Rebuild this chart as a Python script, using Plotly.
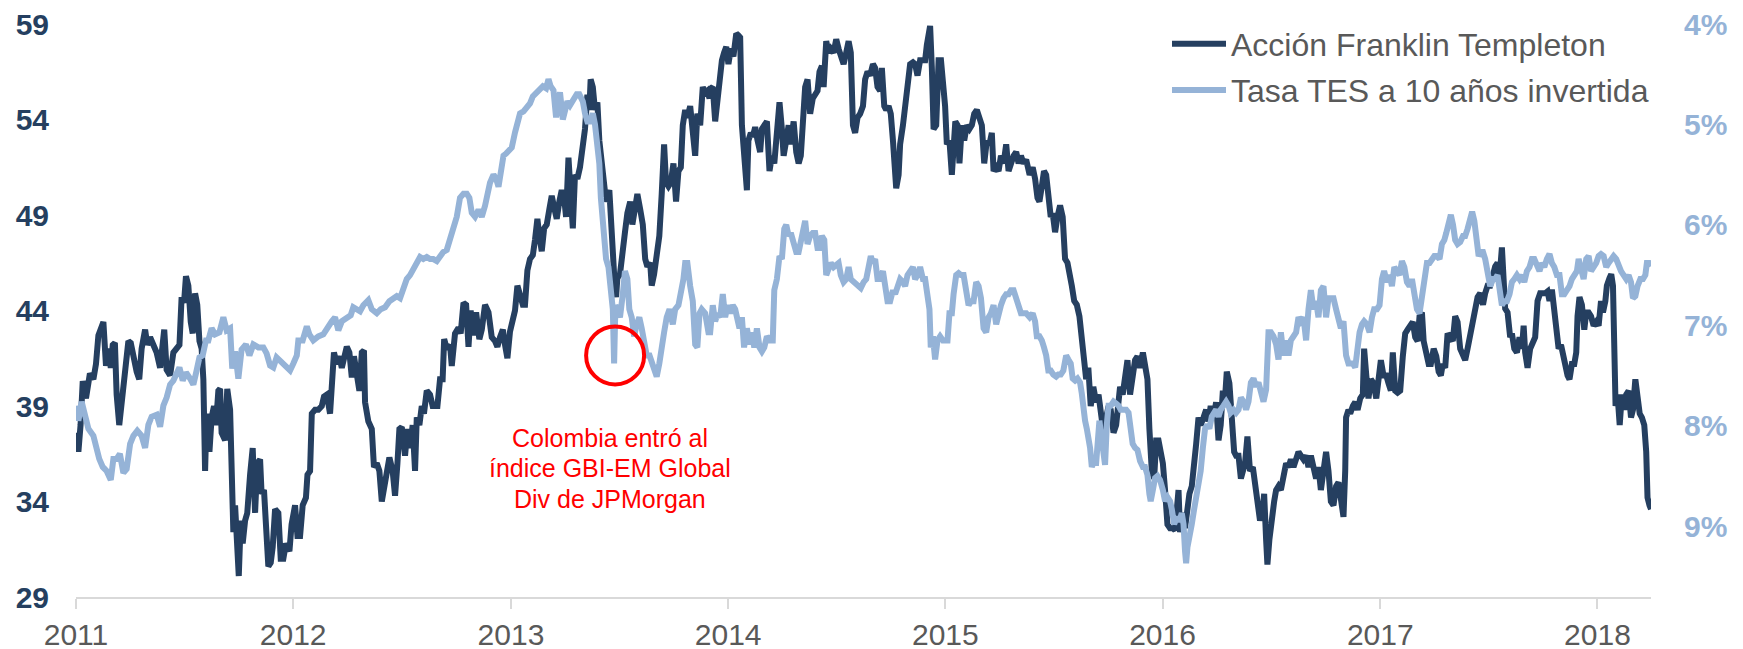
import numpy as np
import pandas as pd
import plotly.graph_objects as go

# (years since 2011-01-01, price)
franklin = [
    (0.003, 37.6), (0.011, 36.6), (0.021, 38.0), (0.031, 40.3), (0.046, 39.4), (0.064, 40.7), (0.080, 40.4),
    (0.092, 41.2), (0.103, 42.7), (0.118, 43.3), (0.126, 43.4), (0.138, 41.1), (0.149, 42.0), (0.160, 41.0),
    (0.169, 42.2), (0.179, 42.3), (0.187, 39.6), (0.199, 38.0), (0.210, 39.2), (0.225, 40.4), (0.241, 42.4),
    (0.252, 42.3), (0.267, 41.4), (0.279, 40.8), (0.291, 40.4), (0.302, 42.0), (0.318, 43.0), (0.328, 42.2),
    (0.341, 42.6), (0.356, 42.2), (0.371, 41.8), (0.387, 41.0), (0.394, 42.0), (0.406, 43.0), (0.417, 40.9),
    (0.433, 40.6), (0.448, 41.8), (0.460, 42.0), (0.476, 42.2), (0.486, 44.7), (0.497, 44.4), (0.506, 45.8),
    (0.517, 45.3), (0.528, 43.4), (0.537, 42.8), (0.548, 44.9), (0.558, 44.3), (0.568, 42.4), (0.578, 42.0),
    (0.586, 40.4), (0.594, 35.6), (0.601, 38.6), (0.614, 36.6), (0.624, 38.4), (0.635, 39.0), (0.644, 38.0),
    (0.655, 39.8), (0.663, 39.9), (0.670, 37.6), (0.686, 37.2), (0.696, 39.9), (0.709, 38.8), (0.716, 34.0),
    (0.724, 32.4), (0.732, 33.8), (0.739, 32.0), (0.749, 30.1), (0.758, 33.0), (0.767, 31.8), (0.778, 33.0),
    (0.788, 33.4), (0.801, 35.4), (0.813, 36.8), (0.824, 33.4), (0.834, 36.0), (0.847, 36.2), (0.854, 34.4),
    (0.865, 34.6), (0.874, 32.6), (0.885, 30.6), (0.896, 30.8), (0.905, 31.6), (0.916, 33.6), (0.931, 33.4),
    (0.942, 31.0), (0.954, 31.0), (0.966, 31.8), (0.982, 31.4), (0.992, 32.8), (1.008, 33.8), (1.019, 32.2),
    (1.031, 32.2), (1.043, 33.8), (1.058, 34.2), (1.065, 35.4), (1.077, 35.6), (1.085, 38.6), (1.100, 38.8),
    (1.115, 38.8), (1.131, 39.0), (1.141, 39.5), (1.154, 39.6), (1.169, 38.6), (1.177, 40.0), (1.187, 41.8),
    (1.200, 41.2), (1.212, 41.6), (1.223, 41.0), (1.233, 41.6), (1.246, 42.1), (1.258, 41.8), (1.269, 40.5),
    (1.279, 41.6), (1.292, 40.4), (1.304, 39.8), (1.315, 41.8), (1.325, 41.9), (1.330, 39.2), (1.345, 38.2),
    (1.361, 37.8), (1.371, 35.8), (1.384, 36.0), (1.396, 35.6), (1.407, 34.0), (1.417, 34.8), (1.430, 35.6),
    (1.442, 36.3), (1.457, 35.6), (1.468, 34.3), (1.479, 36.0), (1.488, 37.8), (1.499, 37.9), (1.514, 36.4),
    (1.525, 37.8), (1.537, 36.8), (1.549, 38.0), (1.560, 35.6), (1.568, 38.4), (1.580, 38.0), (1.591, 39.0),
    (1.601, 38.6), (1.614, 39.8), (1.629, 39.6), (1.641, 39.0), (1.652, 39.0), (1.663, 39.0), (1.675, 40.4),
    (1.687, 40.4), (1.694, 42.5), (1.706, 42.0), (1.721, 42.2), (1.729, 41.1), (1.744, 42.8), (1.760, 43.1),
    (1.770, 42.8), (1.783, 44.4), (1.795, 44.3), (1.806, 42.1), (1.816, 44.0), (1.829, 42.7), (1.841, 43.9),
    (1.856, 42.5), (1.867, 43.0), (1.882, 44.3), (1.898, 43.9), (1.913, 42.6), (1.928, 42.4), (1.939, 42.1),
    (1.951, 42.6), (1.964, 43.0), (1.974, 42.2), (1.985, 41.5), (1.997, 42.9), (2.010, 43.4), (2.020, 44.0),
    (2.031, 45.3), (2.043, 44.9), (2.056, 44.3), (2.066, 44.3), (2.077, 46.1), (2.089, 46.7), (2.102, 46.9),
    (2.112, 47.7), (2.123, 48.8), (2.132, 47.9), (2.143, 47.1), (2.154, 48.3), (2.166, 48.5), (2.178, 49.3),
    (2.189, 50.0), (2.200, 49.4), (2.212, 48.8), (2.224, 49.7), (2.235, 50.3), (2.246, 49.9), (2.255, 48.9),
    (2.266, 52.0), (2.276, 50.1), (2.286, 48.3), (2.296, 51.1), (2.307, 50.9), (2.319, 51.5), (2.332, 52.7),
    (2.342, 53.5), (2.353, 55.3), (2.362, 54.5), (2.368, 56.1), (2.378, 55.7), (2.388, 54.5), (2.399, 54.9),
    (2.408, 52.9), (2.419, 51.7), (2.430, 50.3), (2.439, 49.7), (2.454, 50.3), (2.465, 47.7), (2.476, 45.9),
    (2.485, 44.7), (2.491, 45.7), (2.503, 45.9), (2.516, 46.9), (2.526, 48.1), (2.537, 49.1), (2.550, 49.7),
    (2.560, 48.5), (2.573, 49.3), (2.583, 50.1), (2.596, 49.3), (2.608, 48.5), (2.619, 46.7), (2.629, 46.3),
    (2.642, 46.5), (2.649, 45.3), (2.660, 45.9), (2.672, 47.1), (2.684, 47.9), (2.695, 50.1), (2.706, 52.7),
    (2.715, 50.7), (2.726, 50.5), (2.737, 50.7), (2.749, 51.7), (2.761, 49.7), (2.772, 51.3), (2.783, 51.5),
    (2.792, 53.7), (2.803, 54.5), (2.813, 54.1), (2.826, 54.7), (2.838, 53.5), (2.849, 52.1), (2.859, 54.3),
    (2.872, 53.7), (2.884, 55.7), (2.895, 55.4), (2.905, 55.5), (2.915, 55.1), (2.918, 55.6), (2.930, 55.7),
    (2.941, 53.9), (2.952, 55.1), (2.961, 55.7), (2.972, 57.1), (2.982, 57.5), (2.992, 57.8), (3.002, 56.9),
    (3.013, 57.7), (3.025, 57.3), (3.038, 58.5), (3.048, 58.4), (3.056, 58.3), (3.064, 53.7), (3.071, 52.9),
    (3.079, 51.3), (3.087, 50.3), (3.094, 52.9), (3.105, 53.3), (3.114, 53.1), (3.125, 53.6), (3.136, 52.9),
    (3.148, 52.3), (3.156, 53.5), (3.167, 53.7), (3.179, 53.9), (3.191, 51.3), (3.202, 52.1), (3.213, 51.7),
    (3.225, 53.7), (3.237, 54.9), (3.248, 53.5), (3.256, 52.1), (3.268, 52.9), (3.279, 53.7), (3.289, 52.7),
    (3.302, 53.9), (3.314, 52.3), (3.325, 51.7), (3.335, 52.1), (3.344, 54.5), (3.355, 55.7), (3.366, 56.1),
    (3.378, 54.3), (3.390, 55.1), (3.401, 55.3), (3.412, 55.5), (3.421, 56.5), (3.432, 56.8), (3.440, 55.7),
    (3.452, 58.1), (3.463, 57.5), (3.473, 57.7), (3.486, 57.5), (3.498, 58.2), (3.509, 57.7), (3.519, 57.3),
    (3.532, 56.9), (3.544, 57.5), (3.555, 58.1), (3.565, 57.5), (3.575, 53.7), (3.585, 53.3), (3.596, 54.1),
    (3.608, 54.3), (3.621, 54.7), (3.631, 56.1), (3.642, 56.5), (3.654, 56.3), (3.667, 56.9), (3.677, 56.7),
    (3.688, 55.7), (3.700, 55.5), (3.708, 56.7), (3.719, 54.7), (3.728, 54.5), (3.739, 54.7), (3.749, 54.3),
    (3.759, 52.9), (3.765, 51.1), (3.774, 50.4), (3.785, 51.1), (3.792, 52.7), (3.805, 53.7), (3.815, 54.7),
    (3.826, 55.7), (3.838, 56.9), (3.851, 57.0), (3.861, 56.9), (3.872, 56.3), (3.884, 57.1), (3.897, 57.1),
    (3.907, 57.1), (3.915, 57.9), (3.923, 58.5), (3.930, 58.9), (3.938, 56.7), (3.946, 53.5), (3.958, 53.7),
    (3.969, 57.1), (3.980, 57.1), (3.992, 55.7), (3.999, 54.7), (4.007, 52.7), (4.019, 52.9), (4.030, 51.1),
    (4.038, 52.1), (4.046, 53.9), (4.056, 53.7), (4.065, 51.7), (4.076, 53.7), (4.087, 52.9), (4.099, 53.7),
    (4.111, 53.5), (4.122, 53.7), (4.133, 54.3), (4.145, 54.5), (4.157, 54.1), (4.168, 53.7), (4.179, 51.7),
    (4.191, 52.9), (4.203, 52.7), (4.214, 53.3), (4.222, 51.3), (4.234, 51.5), (4.245, 51.3), (4.256, 52.1),
    (4.268, 51.7), (4.280, 52.7), (4.291, 51.3), (4.302, 51.7), (4.314, 52.1), (4.326, 52.3), (4.337, 51.7),
    (4.348, 52.1), (4.360, 51.7), (4.372, 51.9), (4.388, 51.1), (4.402, 51.5), (4.413, 50.9), (4.424, 49.9),
    (4.433, 49.7), (4.444, 50.5), (4.454, 51.3), (4.464, 51.1), (4.474, 49.7), (4.485, 48.9), (4.494, 49.1),
    (4.505, 48.1), (4.516, 48.9), (4.528, 49.5), (4.540, 48.9), (4.551, 46.7), (4.562, 46.5), (4.571, 45.7),
    (4.582, 45.3), (4.593, 44.5), (4.605, 44.3), (4.617, 43.7), (4.628, 42.6), (4.639, 41.2), (4.648, 40.4),
    (4.658, 41.0), (4.669, 39.0), (4.681, 40.0), (4.694, 39.2), (4.705, 39.6), (4.715, 38.4), (4.728, 37.6),
    (4.740, 38.4), (4.751, 39.0), (4.761, 38.8), (4.774, 37.6), (4.786, 38.0), (4.797, 39.2), (4.804, 40.0),
    (4.816, 39.6), (4.827, 40.6), (4.838, 41.4), (4.850, 39.6), (4.862, 40.8), (4.873, 41.4), (4.884, 41.6),
    (4.896, 41.0), (4.909, 41.8), (4.919, 41.2), (4.930, 40.4), (4.939, 37.8), (4.950, 35.6), (4.961, 35.2),
    (4.970, 37.2), (4.981, 37.2), (4.991, 36.6), (5.001, 36.0), (5.011, 34.6), (5.022, 32.8), (5.034, 32.6),
    (5.047, 32.6), (5.057, 32.5), (5.065, 33.8), (5.073, 34.6), (5.080, 32.4), (5.093, 33.4), (5.103, 32.6),
    (5.111, 33.6), (5.123, 34.4), (5.134, 34.8), (5.145, 35.8), (5.154, 37.0), (5.165, 38.4), (5.175, 38.0),
    (5.188, 38.4), (5.200, 38.8), (5.211, 38.2), (5.221, 39.0), (5.234, 38.4), (5.246, 39.2), (5.257, 37.2),
    (5.267, 38.0), (5.277, 39.8), (5.287, 39.4), (5.295, 40.8), (5.307, 40.2), (5.318, 38.4), (5.329, 36.6),
    (5.338, 36.4), (5.349, 36.4), (5.360, 35.2), (5.369, 35.6), (5.379, 36.0), (5.390, 37.4), (5.402, 35.6),
    (5.415, 35.8), (5.425, 34.8), (5.436, 33.6), (5.448, 33.0), (5.461, 33.6), (5.467, 34.4), (5.476, 32.0),
    (5.482, 30.7), (5.491, 32.0), (5.502, 33.2), (5.513, 34.0), (5.522, 34.6), (5.533, 34.8), (5.544, 34.6),
    (5.556, 35.2), (5.568, 36.0), (5.579, 35.8), (5.590, 36.2), (5.602, 35.8), (5.614, 36.2), (5.625, 36.6),
    (5.636, 36.4), (5.648, 36.2), (5.660, 36.4), (5.671, 35.8), (5.682, 36.4), (5.694, 35.6), (5.706, 35.2),
    (5.717, 35.8), (5.728, 34.6), (5.740, 35.6), (5.752, 36.6), (5.763, 35.6), (5.774, 34.0), (5.786, 33.8),
    (5.798, 34.8), (5.809, 35.0), (5.820, 34.0), (5.832, 33.2), (5.840, 35.6), (5.844, 38.4), (5.855, 38.8),
    (5.863, 38.6), (5.875, 39.0), (5.886, 39.2), (5.897, 38.8), (5.909, 39.4), (5.921, 39.6), (5.927, 42.0),
    (5.937, 40.6), (5.947, 39.4), (5.958, 40.4), (5.970, 40.2), (5.983, 39.4), (5.993, 40.4), (6.004, 41.4),
    (6.016, 40.6), (6.029, 40.6), (6.039, 40.2), (6.050, 39.8), (6.059, 41.8), (6.070, 39.8), (6.081, 39.7),
    (6.093, 39.8), (6.105, 41.6), (6.116, 42.8), (6.127, 43.0), (6.139, 43.2), (6.151, 43.4), (6.162, 42.6),
    (6.173, 42.4), (6.182, 43.7), (6.193, 43.9), (6.201, 42.4), (6.213, 41.6), (6.224, 41.2), (6.234, 41.2),
    (6.247, 42.0), (6.259, 41.6), (6.270, 40.8), (6.280, 40.6), (6.289, 41.2), (6.300, 41.0), (6.311, 42.8),
    (6.323, 42.6), (6.335, 42.4), (6.346, 43.7), (6.357, 43.4), (6.369, 42.0), (6.382, 41.6), (6.392, 41.4),
    (6.403, 42.0), (6.415, 42.8), (6.428, 43.7), (6.438, 44.0), (6.449, 44.7), (6.461, 44.9), (6.474, 44.3),
    (6.484, 44.9), (6.495, 45.3), (6.507, 45.3), (6.520, 45.9), (6.530, 46.3), (6.541, 46.5), (6.550, 45.7),
    (6.561, 47.3), (6.569, 45.3), (6.576, 44.1), (6.587, 43.9), (6.599, 42.6), (6.607, 42.8), (6.618, 42.0),
    (6.630, 41.8), (6.642, 42.6), (6.653, 42.0), (6.661, 43.2), (6.668, 41.8), (6.679, 41.0), (6.691, 42.0),
    (6.704, 42.4), (6.714, 42.6), (6.725, 44.5), (6.737, 44.9), (6.750, 44.9), (6.760, 44.9), (6.771, 45.0),
    (6.780, 44.5), (6.791, 45.1), (6.802, 44.1), (6.814, 42.8), (6.822, 42.0), (6.833, 42.2), (6.842, 41.6),
    (6.852, 41.0), (6.863, 40.6), (6.872, 40.4), (6.883, 41.2), (6.894, 41.2), (6.903, 41.8), (6.909, 43.7),
    (6.918, 44.7), (6.929, 44.3), (6.940, 43.0), (6.949, 43.9), (6.960, 43.9), (6.971, 43.7), (6.983, 43.2),
    (6.995, 43.4), (7.006, 43.2), (7.017, 44.5), (7.026, 43.9), (7.037, 44.5), (7.044, 45.3), (7.056, 45.7),
    (7.064, 45.9), (7.072, 45.3), (7.078, 42.4), (7.084, 39.0), (7.093, 39.6), (7.103, 38.0), (7.113, 39.6),
    (7.124, 38.8), (7.133, 39.6), (7.144, 39.8), (7.155, 38.4), (7.164, 38.8), (7.175, 40.4), (7.185, 39.4),
    (7.195, 38.6), (7.205, 38.4), (7.216, 38.0), (7.225, 36.6), (7.231, 34.2), (7.240, 33.8), (7.247, 33.6),
]

# (years since 2011-01-01, 10y TES yield in %)
tes = [
    (0.003, 7.80), (0.011, 7.95), (0.026, 7.76), (0.041, 7.91), (0.057, 8.03), (0.080, 8.10), (0.095, 8.26),
    (0.107, 8.33), (0.123, 8.41), (0.141, 8.45), (0.160, 8.54), (0.172, 8.33), (0.187, 8.33), (0.202, 8.28),
    (0.218, 8.47), (0.233, 8.43), (0.249, 8.18), (0.264, 8.10), (0.282, 8.05), (0.302, 8.10), (0.318, 8.22),
    (0.333, 7.99), (0.348, 7.91), (0.371, 7.89), (0.387, 8.01), (0.402, 7.80), (0.417, 7.72), (0.433, 7.59),
    (0.448, 7.55), (0.463, 7.49), (0.476, 7.42), (0.491, 7.55), (0.506, 7.47), (0.525, 7.53), (0.540, 7.59),
    (0.555, 7.45), (0.568, 7.32), (0.583, 7.30), (0.598, 7.15), (0.609, 7.15), (0.624, 7.03), (0.640, 7.09),
    (0.660, 7.07), (0.678, 6.92), (0.693, 7.05), (0.709, 7.03), (0.719, 7.43), (0.732, 7.26), (0.747, 7.53),
    (0.762, 7.24), (0.782, 7.19), (0.798, 7.30), (0.816, 7.19), (0.839, 7.22), (0.862, 7.22), (0.877, 7.28),
    (0.893, 7.40), (0.908, 7.42), (0.923, 7.32), (0.942, 7.36), (0.962, 7.40), (0.985, 7.45), (1.000, 7.38),
    (1.016, 7.30), (1.023, 7.15), (1.043, 7.15), (1.062, 7.01), (1.074, 7.09), (1.092, 7.15), (1.115, 7.11),
    (1.138, 7.09), (1.154, 7.03), (1.177, 6.96), (1.192, 6.92), (1.207, 7.05), (1.223, 6.96), (1.246, 6.92),
    (1.264, 6.90), (1.276, 6.82), (1.295, 6.84), (1.307, 6.86), (1.322, 6.80), (1.345, 6.75), (1.361, 6.84),
    (1.384, 6.88), (1.402, 6.84), (1.422, 6.82), (1.442, 6.76), (1.460, 6.73), (1.476, 6.71), (1.491, 6.73),
    (1.506, 6.65), (1.522, 6.54), (1.537, 6.50), (1.552, 6.44), (1.568, 6.38), (1.583, 6.32), (1.598, 6.34),
    (1.614, 6.32), (1.629, 6.34), (1.644, 6.34), (1.660, 6.36), (1.675, 6.31), (1.690, 6.27), (1.706, 6.25),
    (1.721, 6.15), (1.736, 6.04), (1.752, 5.92), (1.767, 5.73), (1.783, 5.69), (1.798, 5.69), (1.810, 5.73),
    (1.821, 5.88), (1.836, 5.92), (1.852, 5.85), (1.867, 5.92), (1.882, 5.81), (1.893, 5.69), (1.905, 5.58),
    (1.921, 5.50), (1.933, 5.54), (1.944, 5.62), (1.954, 5.46), (1.967, 5.31), (1.979, 5.29), (1.990, 5.27),
    (2.005, 5.23), (2.020, 5.08), (2.031, 4.95), (2.043, 4.89), (2.059, 4.87), (2.074, 4.83), (2.089, 4.79),
    (2.102, 4.72), (2.117, 4.68), (2.132, 4.64), (2.148, 4.62), (2.163, 4.64), (2.174, 4.55), (2.184, 4.62),
    (2.197, 4.66), (2.209, 4.93), (2.220, 4.70), (2.227, 4.68), (2.240, 4.95), (2.250, 4.85), (2.261, 4.77),
    (2.273, 4.81), (2.289, 4.76), (2.304, 4.70), (2.316, 4.70), (2.332, 4.77), (2.342, 4.89), (2.353, 4.97),
    (2.365, 4.97), (2.378, 4.89), (2.388, 5.00), (2.399, 5.16), (2.408, 5.39), (2.415, 5.73), (2.424, 6.04),
    (2.430, 6.23), (2.439, 6.34), (2.450, 6.42), (2.461, 6.76), (2.470, 6.84), (2.476, 7.38), (2.482, 6.80),
    (2.491, 6.84), (2.503, 6.92), (2.516, 6.69), (2.526, 6.46), (2.537, 6.54), (2.546, 6.84), (2.557, 6.92),
    (2.568, 7.11), (2.580, 6.99), (2.592, 6.92), (2.603, 7.03), (2.614, 7.15), (2.626, 7.30), (2.639, 7.30),
    (2.649, 7.38), (2.660, 7.45), (2.672, 7.51), (2.684, 7.38), (2.695, 7.19), (2.706, 7.07), (2.718, 6.92),
    (2.731, 6.84), (2.746, 6.99), (2.757, 6.84), (2.772, 6.80), (2.783, 6.69), (2.795, 6.54), (2.803, 6.38),
    (2.813, 6.38), (2.826, 6.61), (2.838, 6.76), (2.849, 7.19), (2.859, 7.22), (2.869, 6.88), (2.879, 6.84),
    (2.895, 6.88), (2.910, 7.07), (2.918, 7.07), (2.930, 6.80), (2.941, 6.96), (2.952, 6.88), (2.964, 6.92),
    (2.976, 6.69), (2.987, 6.92), (2.998, 6.80), (3.010, 6.88), (3.022, 6.80), (3.033, 6.84), (3.044, 6.92),
    (3.053, 7.03), (3.064, 6.92), (3.074, 7.22), (3.087, 7.03), (3.099, 7.19), (3.110, 7.07), (3.121, 7.22),
    (3.133, 7.03), (3.145, 7.22), (3.156, 7.26), (3.167, 7.22), (3.179, 7.11), (3.194, 7.15), (3.206, 7.15),
    (3.213, 6.65), (3.225, 6.54), (3.237, 6.31), (3.248, 6.34), (3.259, 6.04), (3.268, 6.00), (3.279, 6.11),
    (3.289, 6.08), (3.302, 6.19), (3.314, 6.27), (3.325, 6.27), (3.335, 6.15), (3.348, 6.04), (3.355, 5.96),
    (3.366, 6.19), (3.378, 6.11), (3.390, 6.08), (3.401, 6.08), (3.412, 6.23), (3.421, 6.23), (3.432, 6.11),
    (3.443, 6.15), (3.452, 6.50), (3.463, 6.42), (3.473, 6.38), (3.486, 6.42), (3.498, 6.40), (3.509, 6.38),
    (3.519, 6.50), (3.532, 6.57), (3.544, 6.54), (3.555, 6.42), (3.565, 6.54), (3.578, 6.57), (3.590, 6.59),
    (3.601, 6.61), (3.611, 6.63), (3.624, 6.57), (3.636, 6.54), (3.647, 6.42), (3.657, 6.31), (3.667, 6.38),
    (3.677, 6.34), (3.688, 6.54), (3.700, 6.54), (3.713, 6.46), (3.723, 6.61), (3.734, 6.76), (3.746, 6.76),
    (3.759, 6.65), (3.769, 6.69), (3.780, 6.61), (3.792, 6.54), (3.805, 6.57), (3.815, 6.61), (3.826, 6.50),
    (3.838, 6.46), (3.851, 6.42), (3.861, 6.54), (3.872, 6.50), (3.884, 6.42), (3.897, 6.54), (3.907, 6.54),
    (3.918, 6.76), (3.927, 6.84), (3.933, 7.22), (3.943, 7.11), (3.953, 7.34), (3.964, 7.15), (3.976, 7.11),
    (3.989, 7.15), (3.999, 7.15), (4.010, 7.15), (4.019, 6.88), (4.030, 6.88), (4.038, 6.69), (4.050, 6.50),
    (4.061, 6.48), (4.072, 6.50), (4.084, 6.50), (4.096, 6.65), (4.107, 6.80), (4.118, 6.76), (4.130, 6.76),
    (4.142, 6.57), (4.153, 6.61), (4.164, 6.73), (4.176, 7.03), (4.188, 7.07), (4.199, 6.92), (4.210, 6.88),
    (4.222, 6.80), (4.234, 6.99), (4.245, 6.88), (4.256, 6.80), (4.268, 6.73), (4.280, 6.69), (4.291, 6.69),
    (4.302, 6.65), (4.314, 6.65), (4.326, 6.73), (4.337, 6.80), (4.348, 6.88), (4.360, 6.88), (4.372, 6.88),
    (4.388, 6.92), (4.402, 6.88), (4.413, 6.96), (4.421, 7.11), (4.433, 7.11), (4.444, 7.15), (4.454, 7.22),
    (4.464, 7.30), (4.474, 7.45), (4.485, 7.45), (4.497, 7.49), (4.510, 7.51), (4.520, 7.49), (4.531, 7.49),
    (4.543, 7.45), (4.556, 7.30), (4.566, 7.34), (4.577, 7.38), (4.586, 7.53), (4.597, 7.55), (4.608, 7.53),
    (4.620, 7.57), (4.628, 7.68), (4.635, 7.91), (4.643, 7.95), (4.651, 8.03), (4.658, 8.10), (4.666, 8.22),
    (4.674, 8.41), (4.681, 8.37), (4.694, 8.37), (4.700, 8.18), (4.709, 7.95), (4.720, 8.14), (4.728, 8.30),
    (4.735, 8.39), (4.743, 7.99), (4.751, 7.80), (4.761, 7.80), (4.774, 7.76), (4.786, 7.78), (4.797, 7.80),
    (4.807, 7.84), (4.820, 7.84), (4.832, 7.84), (4.843, 7.87), (4.850, 7.99), (4.862, 8.18), (4.873, 8.22),
    (4.884, 8.24), (4.896, 8.35), (4.909, 8.41), (4.919, 8.41), (4.930, 8.49), (4.939, 8.68), (4.945, 8.75),
    (4.955, 8.64), (4.965, 8.52), (4.976, 8.50), (4.988, 8.54), (5.001, 8.64), (5.011, 8.75), (5.022, 8.71),
    (5.034, 8.75), (5.042, 8.83), (5.053, 8.98), (5.065, 8.91), (5.077, 8.95), (5.088, 8.87), (5.096, 8.98),
    (5.103, 9.25), (5.108, 9.37), (5.114, 9.21), (5.123, 9.06), (5.134, 8.98), (5.145, 8.83), (5.154, 8.72),
    (5.165, 8.56), (5.175, 8.45), (5.185, 8.22), (5.195, 8.03), (5.206, 7.99), (5.215, 8.03), (5.226, 7.91),
    (5.237, 7.87), (5.246, 7.84), (5.257, 7.91), (5.267, 7.84), (5.280, 7.80), (5.292, 7.76), (5.303, 7.80),
    (5.313, 7.87), (5.326, 7.84), (5.338, 7.87), (5.349, 7.84), (5.360, 7.72), (5.372, 7.76), (5.384, 7.84),
    (5.395, 7.76), (5.406, 7.57), (5.418, 7.53), (5.430, 7.61), (5.441, 7.57), (5.452, 7.64), (5.464, 7.76),
    (5.476, 7.64), (5.487, 7.07), (5.498, 7.07), (5.510, 7.11), (5.522, 7.19), (5.533, 7.34), (5.544, 7.07),
    (5.556, 7.30), (5.568, 7.15), (5.579, 7.30), (5.590, 7.15), (5.602, 7.11), (5.614, 7.07), (5.625, 6.92),
    (5.636, 6.96), (5.648, 6.92), (5.660, 7.15), (5.671, 6.84), (5.682, 6.65), (5.694, 6.84), (5.706, 6.76),
    (5.717, 6.92), (5.728, 6.65), (5.740, 6.61), (5.752, 6.92), (5.763, 6.73), (5.774, 6.73), (5.786, 6.73),
    (5.798, 6.84), (5.809, 6.96), (5.820, 7.03), (5.832, 6.96), (5.844, 7.30), (5.855, 7.38), (5.863, 7.38),
    (5.875, 7.38), (5.886, 7.42), (5.897, 7.19), (5.906, 7.07), (5.917, 6.99), (5.927, 6.96), (5.940, 6.99),
    (5.952, 7.07), (5.963, 6.92), (5.973, 6.84), (5.986, 6.84), (5.998, 6.80), (6.009, 6.54), (6.019, 6.46),
    (6.032, 6.57), (6.044, 6.50), (6.055, 6.61), (6.066, 6.42), (6.078, 6.46), (6.090, 6.50), (6.101, 6.36),
    (6.112, 6.42), (6.124, 6.57), (6.136, 6.61), (6.147, 6.54), (6.158, 6.69), (6.170, 6.84), (6.182, 6.88),
    (6.193, 6.69), (6.204, 6.54), (6.216, 6.38), (6.228, 6.38), (6.239, 6.34), (6.250, 6.31), (6.262, 6.31),
    (6.274, 6.34), (6.285, 6.19), (6.296, 6.15), (6.305, 6.08), (6.316, 6.00), (6.326, 5.90), (6.336, 6.00),
    (6.346, 6.15), (6.357, 6.19), (6.369, 6.17), (6.382, 6.11), (6.392, 6.11), (6.403, 6.04), (6.415, 5.92),
    (6.424, 5.87), (6.434, 5.96), (6.443, 6.08), (6.454, 6.31), (6.464, 6.27), (6.474, 6.27), (6.484, 6.34),
    (6.495, 6.46), (6.507, 6.61), (6.520, 6.54), (6.530, 6.54), (6.541, 6.50), (6.550, 6.65), (6.561, 6.80),
    (6.572, 6.76), (6.584, 6.76), (6.596, 6.69), (6.607, 6.57), (6.618, 6.54), (6.630, 6.50), (6.642, 6.54),
    (6.653, 6.50), (6.664, 6.57), (6.676, 6.46), (6.688, 6.42), (6.699, 6.34), (6.710, 6.34), (6.722, 6.42),
    (6.734, 6.46), (6.745, 6.38), (6.756, 6.42), (6.768, 6.34), (6.780, 6.29), (6.791, 6.38), (6.802, 6.42),
    (6.814, 6.50), (6.826, 6.50), (6.837, 6.69), (6.848, 6.69), (6.860, 6.65), (6.872, 6.61), (6.883, 6.54),
    (6.894, 6.50), (6.906, 6.46), (6.914, 6.34), (6.925, 6.46), (6.937, 6.54), (6.949, 6.34), (6.960, 6.31),
    (6.971, 6.46), (6.983, 6.42), (6.995, 6.38), (7.006, 6.31), (7.017, 6.29), (7.029, 6.31), (7.041, 6.42),
    (7.052, 6.38), (7.063, 6.34), (7.075, 6.31), (7.087, 6.34), (7.098, 6.42), (7.109, 6.46), (7.121, 6.50),
    (7.133, 6.54), (7.144, 6.50), (7.155, 6.57), (7.164, 6.73), (7.175, 6.71), (7.185, 6.61), (7.198, 6.54),
    (7.210, 6.54), (7.221, 6.50), (7.228, 6.38), (7.240, 6.38), (7.251, 6.40),
]

left_ticks = [29, 34, 39, 44, 49, 54, 59]
right_ticks = [4, 5, 6, 7, 8, 9]
right_labels = ["4%", "5%", "6%", "7%", "8%", "9%"]
series_names = ["Acción Franklin Templeton", "Tasa TES a 10 años invertida"]
note_lines = ["Colombia entró al", "índice GBI-EM Global", "Div de JPMorgan"]

START = pd.Timestamp("2011-01-01")


def to_dates(offsets):
    return START + pd.to_timedelta(np.asarray(offsets, dtype=float) * 365.25, unit="D")


fx, fy = zip(*franklin)
tx, ty = zip(*tes)
f_dates = to_dates(fx)
t_dates = to_dates(tx)

DARK = "#253F60"
LIGHT = "#95B3D7"
GREY = "#595959"
FONT = "Liberation Sans, Arial, Helvetica, sans-serif"

fig = go.Figure()
fig.add_trace(go.Scatter(
    x=f_dates, y=fy, mode="lines", name=series_names[0],
    line=dict(color=DARK, width=6), legend="legend",
))
fig.add_trace(go.Scatter(
    x=t_dates, y=ty, mode="lines", name=series_names[1],
    line=dict(color=LIGHT, width=6), yaxis="y2", legend="legend2",
))

# event marker: the sharp dip in the TES curve (mid-2013)
tx_arr, ty_arr = np.array(tx), np.array(ty)
dip_idx = int(np.argmax(np.where((tx_arr > 2.4) & (tx_arr < 2.6), ty_arr, -1)))
fig.add_shape(
    type="circle", xref="x", yref="y2",
    xsizemode="pixel", ysizemode="pixel",
    xanchor=t_dates[dip_idx].isoformat(), yanchor=float(ty_arr[dip_idx]) - 0.08,
    x0=-28, x1=30, y0=-29, y1=29,
    line=dict(color="#FF0000", width=4),
)
note_x = to_dates([2.457])[0].isoformat()
for i, line_txt in enumerate(note_lines):
    fig.add_annotation(
        x=note_x, y=35.75, xref="x", yref="y", yshift=(1 - i) * 30.5,
        text=line_txt, showarrow=False, align="center",
        font=dict(family=FONT, size=25, color="#FF0000"),
    )

legend_common = dict(
    xanchor="left", yanchor="middle", bgcolor="rgba(0,0,0,0)",
    font=dict(family=FONT, size=32, color=GREY), itemwidth=54,
    borderwidth=0,
)

# the page body adds an 8px offset, so margins are reduced by that amount
fig.update_layout(
    width=1743, height=649, autosize=False,
    margin=dict(l=68, r=100, t=16, b=60, pad=0, autoexpand=False),
    paper_bgcolor="white", plot_bgcolor="white",
    font=dict(family=FONT),
    showlegend=True,
    xaxis=dict(
        type="date", range=[START, f_dates[-1]], automargin=False,
        tick0="2011-01-01", dtick="M12", tickformat="%Y",
        showgrid=False, zeroline=False, showline=True,
        linecolor="#D9D9D9", linewidth=1.5,
        ticks="outside", ticklen=10, tickwidth=1.5, tickcolor="#D9D9D9",
        tickfont=dict(family=FONT, size=30, color=GREY),
        ticklabelstandoff=0, ticklabeloverflow="allow",
    ),
    yaxis=dict(
        range=[29, 59], tickvals=left_ticks, automargin=False,
        showgrid=False, zeroline=False, showline=False, ticks="",
        tickfont=dict(family=FONT, size=30, color=DARK, weight="bold"),
        ticklabelstandoff=26, ticklabeloverflow="allow",
    ),
    yaxis2=dict(
        overlaying="y", side="right", range=[9.705, 4.0], automargin=False,
        tickmode="array", tickvals=right_ticks, ticktext=right_labels,
        showgrid=False, zeroline=False, showline=False,
        ticks="outside", ticklen=26, tickcolor="rgba(0,0,0,0)",
        tickfont=dict(family=FONT, size=30, color=LIGHT, weight="bold"),
        ticklabeloverflow="allow",
    ),
    legend=dict(x=0.6927, y=0.9653, **legend_common),
    legend2=dict(x=0.6927, y=0.8846, **legend_common),
)

fig.write_html("out.html")
